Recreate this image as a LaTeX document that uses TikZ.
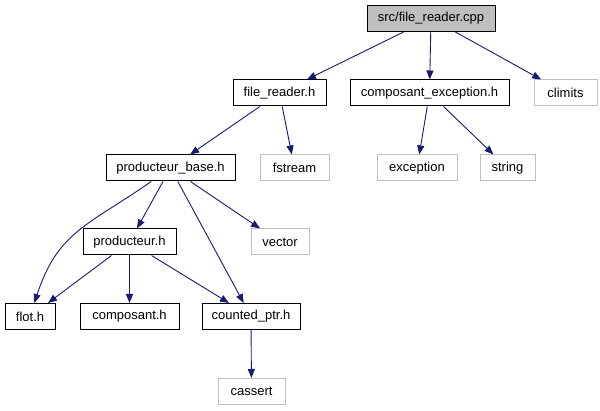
\documentclass[tikz,border=0pt]{standalone}
\usepackage{fontspec}
\setmainfont{Liberation Sans}
\usetikzlibrary{arrows.meta}

\definecolor{edgeblue}{RGB}{25,25,112}
\definecolor{sysgray}{RGB}{191,191,191}

\begin{document}
\begin{tikzpicture}[x=1pt, y=-1pt,
  box/.style={draw=black, line width=1pt, minimum height=26pt, inner sep=0pt,
    font=\fontsize{13}{15}\selectfont},
  sysbox/.style={box, draw=sysgray},
  rootbox/.style={box, fill=sysgray},
  dep/.style={draw=edgeblue, line width=0.9pt, -{Triangle[length=9pt,width=7pt]}}]

% Page frame
\fill[white] (0,0) rectangle (600,411);
\useasboundingbox (0,0) rectangle (600,411);

% Source file
\node[rootbox, minimum width=128pt] (src) at (431,18.5) {src/file\_reader.cpp};

% First level
\node[box, minimum width=93pt] (reader) at (279.5,93) {file\_reader.h};
\node[box, minimum width=159pt] (compexc) at (429.5,93) {composant\_exception.h};
\node[sysbox, minimum width=63pt] (climits) at (565.5,93) {climits};

% Second level
\node[box, minimum width=129pt] (prodbase) at (170.5,168) {producteur\_base.h};
\node[sysbox, minimum width=69pt] (fstream) at (294.5,168) {fstream};
\node[sysbox, minimum width=80pt] (exception) at (417,168) {exception};
\node[sysbox, minimum width=55pt] (string) at (507.5,168) {string};

% Third level
\node[box, minimum width=93pt] (prod) at (129.5,242) {producteur.h};
\node[sysbox, minimum width=58pt] (vector) at (280,242) {vector};

% Fourth level
\node[box, minimum width=50pt] (flot) at (30,316.5) {flot.h};
\node[box, minimum width=99pt] (composant) at (129.5,316.5) {composant.h};
\node[box, minimum width=98pt] (counted) at (251,316.5) {counted\_ptr.h};

% Last level
\node[sysbox, minimum width=67pt] (cassert) at (251.5,391.5) {cassert};

% Includes
\draw[dep] (src) -- (reader);
\draw[dep] (src) -- (compexc);
\draw[dep] (src) -- (climits);
\draw[dep] (reader) -- (prodbase);
\draw[dep] (reader) -- (fstream);
\draw[dep] (compexc) -- (exception);
\draw[dep] (compexc) -- (string);
\draw[dep] (prodbase) -- (prod);
\draw[dep] (prodbase) to[out=-145, in=72, looseness=1.15] (flot);
\draw[dep] (prodbase) -- (counted);
\draw[dep] (prodbase) -- (vector);
\draw[dep] (prod) -- (flot);
\draw[dep] (prod) -- (composant);
\draw[dep] (prod) -- (counted);
\draw[dep] (counted) -- (cassert);

\end{tikzpicture}
\end{document}
